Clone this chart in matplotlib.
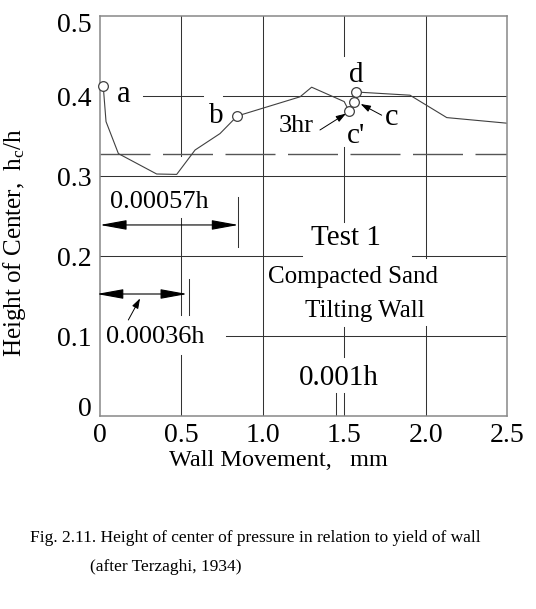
import matplotlib
matplotlib.use('Agg')
import matplotlib.pyplot as plt
from matplotlib.transforms import ScaledTranslation

plt.rcParams['font.family'] = 'Liberation Serif'
plt.rcParams['mathtext.fontset'] = 'custom'
plt.rcParams['mathtext.rm'] = 'Liberation Serif'

# wall movement (mm) and height of center hc/h
movement = [0.02, 0.037, 0.113, 0.348, 0.471, 0.584, 0.737, 0.843, 1.229, 1.30, 1.50, 1.53]
height = [0.412, 0.368, 0.328, 0.3025, 0.302, 0.3325, 0.353, 0.375, 0.399, 0.411, 0.393, 0.381]

# branch after point d
movement_d = [1.573, 1.904, 2.13, 2.5]
height_d = [0.405, 0.401, 0.373, 0.366]

# labelled test points
point_names = ['a', 'b', "c'", 'c', 'd']
point_x = [0.02, 0.843, 1.53, 1.562, 1.573]
point_y = [0.412, 0.375, 0.381, 0.393, 0.405]

center_line = 0.3275

x_ticks = [0, 0.5, 1.0, 1.5, 2.0, 2.5]
x_labels = ['0', '0.5', '1.0', '1.5', '2.0', '2.5']
y_ticks = [0, 0.1, 0.2, 0.3, 0.4, 0.5]
y_labels = ['0', '0.1', '0.2', '0.3', '0.4', '0.5']

fig = plt.figure(figsize=(5.36, 6.09), dpi=100)
ax = fig.add_axes([100/536, 1-416/609, 407/536, 400/609])
ax.set_xlim(0, 2.5)
ax.set_ylim(0, 0.5)

grid_col = '#333333'
line_col = '#404040'

# grid, broken where the labels sit
vgrid = [
    (0.5, 0.5, 0.3245), (0.5, 0.2471, 0.126), (0.5, 0.0763, 0),
    (1.0, 0.5, 0),
    (1.5, 0.5, 0.45), (1.5, 0.336, 0.2425), (1.5, 0.111, 0.074), (1.5, 0.029, 0),
    (1.448, 0.029, 0),
    (2.0, 0.5, 0.1975), (2.0, 0.1125, 0),
]
hgrid = [
    (0.4, 0.266, 0.635), (0.4, 0.757, 2.5),
    (0.3, 0, 2.5),
    (0.2, 0, 1.239), (0.2, 1.915, 2.5),
    (0.1, 0.772, 2.5),
]
for x, y0, y1 in vgrid:
    ax.plot([x, x], [y0, y1], color=grid_col, lw=0.75, zorder=1)
for y, x0, x1 in hgrid:
    ax.plot([x0, x1], [y, y], color=grid_col, lw=0.75, zorder=1)
ax.axhline(center_line, color='#555555', lw=1, dashes=(36, 9), zorder=1)

ax.plot(movement, height, color=line_col, lw=0.8, zorder=2)
ax.plot(movement_d, height_d, color=line_col, lw=0.8, zorder=2)
ax.plot(point_x, point_y, 'o', ms=7, mfc='white', mec=line_col, mew=0.9, zorder=3,
        clip_on=False)

# point labels
ax.text(0.143, 0.393, 'a', fontsize=22, ha='center', va='baseline')
ax.text(0.717, 0.366, 'b', fontsize=21, ha='center', va='baseline')
ax.text(1.573, 0.418, 'd', fontsize=21, ha='center', va='baseline')
ax.text(1.792, 0.364, 'c', fontsize=22, ha='center', va='baseline')
ax.text(1.573, 0.341, "c'", fontsize=21, ha='center', va='baseline')
ax.text(1.204, 0.355, '3hr', fontsize=19, ha='center', va='baseline')

small = dict(arrowstyle='-|>,head_length=0.6,head_width=0.2', color='black', lw=0.7,
             shrinkA=0, shrinkB=0, mutation_scale=10)
ax.annotate('', xy=(1.511, 0.378), xytext=(1.351, 0.3575), arrowprops=small)
ax.annotate('', xy=(1.601, 0.39), xytext=(1.730, 0.376), arrowprops=small)

# dimension marks
dim = dict(arrowstyle='<|-|>,head_length=1.65,head_width=0.3', color='black', lw=0.8,
           shrinkA=0, shrinkB=0, mutation_scale=10)
ax.text(0.3624, 0.2596, '0.00057h', fontsize=19, ha='center', va='baseline')
ax.annotate('', xy=(0.0, 0.2388), xytext=(0.85, 0.2388), arrowprops=dim,
            annotation_clip=False)
ax.plot([0.85, 0.85], [0.2734, 0.2109], color=grid_col, lw=0.75)

ax.text(0.342, 0.0917, '0.00036h', fontsize=19, ha='center', va='baseline')
ax.annotate('', xy=(-0.02, 0.1525), xytext=(0.535, 0.1525), arrowprops=dim,
            annotation_clip=False)
ax.plot([0.549, 0.549], [0.171, 0.126], color=grid_col, lw=0.75)
ax.annotate('', xy=(0.246, 0.147), xytext=(0.174, 0.12), arrowprops=small)

ax.text(1.51, 0.214, 'Test 1', fontsize=21, ha='center', va='baseline')
ax.text(1.556, 0.1667, 'Compacted Sand', fontsize=18, ha='center', va='baseline')
ax.text(1.628, 0.1233, 'Tilting Wall', fontsize=18, ha='center', va='baseline')
ax.text(1.469, 0.0388, '0.001h', fontsize=21, ha='center', va='baseline')

ax.set_xticks(x_ticks)
ax.set_xticklabels(x_labels)
ax.set_yticks(y_ticks)
ax.set_yticklabels(y_labels)
ax.tick_params(length=0, labelsize=20)
ax.tick_params(axis='x', pad=5)
ax.tick_params(axis='y', pad=6)
for s in ax.spines.values():
    s.set_color('#888888')
    s.set_linewidth(1.1)

# the end labels of the y axis sit a little inside the frame
yt = ax.yaxis.get_major_ticks()
lab0 = yt[0].label1
lab0.set_transform(lab0.get_transform() + ScaledTranslation(0, 10/100, fig.dpi_scale_trans))
lab5 = yt[-1].label1
lab5.set_transform(lab5.get_transform() + ScaledTranslation(0, -6/100, fig.dpi_scale_trans))

fig.text(278/536, 1-460/609, 'Wall Movement,   mm', fontsize=17.5, ha='center', va='center')
fig.text(15/536, 1-242/609, r'Height of Center,  $\mathregular{h_c/h}$', fontsize=18,
         rotation=90, ha='center', va='center')

fig.text(30/536, 1-538/609, 'Fig. 2.11. Height of center of pressure in relation to yield of wall',
         fontsize=12.5, ha='left', va='center')
fig.text(90/536, 1-567/609, '(after Terzaghi, 1934)', fontsize=12.5, ha='left', va='center')

fig.savefig('out.png', dpi=100)
